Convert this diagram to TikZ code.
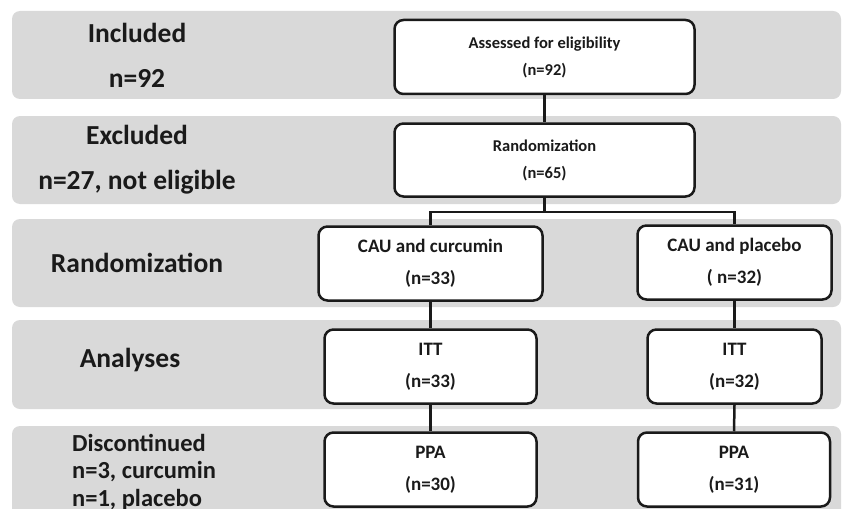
\documentclass[tikz,border=0pt]{standalone}
\usepackage{fontspec}
\setmainfont{Carlito}
\definecolor{band}{HTML}{D9D9D9}
\definecolor{ink}{HTML}{1A1A1A}
\begin{document}
\begin{tikzpicture}[x=1pt,y=-1pt,
  bandbox/.style={fill=band, draw=none, rounded corners=8pt},
  flowbox/.style={draw=ink, fill=white, line width=2.5pt, rounded corners=9pt, align=center, text=ink, inner sep=0pt},
  smallbox/.style={flowbox, font=\fontsize{16.5}{27}\selectfont\bfseries},
  bigbox/.style={flowbox, font=\fontsize{19}{32}\selectfont\bfseries},
  sidelabel/.style={text=ink, font=\fontsize{27.5}{45}\selectfont\bfseries, align=center, inner sep=0pt},
  link/.style={draw=ink, line width=2.5pt}
]
\useasboundingbox (0,0) rectangle (842,508);
\clip (0,0) rectangle (842,508);
% bands
\path[bandbox] (12,11) rectangle (841,99);
\path[bandbox] (12,116) rectangle (841,204);
\path[bandbox] (12,219) rectangle (841,307);
\path[bandbox] (12,320) rectangle (841,409);
\path[bandbox] (12,426) rectangle (841,530);
% side labels
\node[sidelabel] (l1) at (137,55) {Included\\n=92};
\node[sidelabel] (l2) at (137,160) {Excluded\\n=27, not eligible};
\node[sidelabel] (l3) at (137,263) {Randomization};
\node[sidelabel] (l4) at (130,360) {Analyses};
\node[sidelabel, align=left, anchor=west, font=\fontsize{24.5}{27.5}\selectfont\bfseries] (l5) at (72,472) {Discontinued\\n=3, curcumin\\n=1, placebo};
% boxes
\node[smallbox, minimum width=300pt, minimum height=74pt] (assess) at (544.5,57) {Assessed for eligibility\\(n=92)};
\node[smallbox, minimum width=300pt, minimum height=73pt] (rand) at (544.5,160) {Randomization\\(n=65)};
\node[bigbox, minimum width=224pt, minimum height=74pt] (cau1) at (430.5,263.5) {CAU and curcumin\\(n=33)};
\node[bigbox, minimum width=194pt, minimum height=74pt] (cau2) at (734.5,262.5) {CAU and placebo\\( n=32)};
\node[bigbox, minimum width=212pt, minimum height=74pt] (itt1) at (430.5,366.5) {ITT\\(n=33)};
\node[bigbox, minimum width=174pt, minimum height=74pt] (itt2) at (734.5,366.5) {ITT\\(n=32)};
\node[bigbox, minimum width=212pt, minimum height=74pt] (ppa1) at (430.5,469.5) {PPA\\(n=30)};
\node[bigbox, minimum width=192pt, minimum height=74pt] (ppa2) at (734,469.5) {PPA\\(n=31)};
% connectors
\coordinate (split) at ([yshift=-14pt]rand.south);
\draw[link] (assess.south) -- (rand.north);
\draw[link] (rand.south) -- (split) -| (cau1.north);
\draw[link] (split) -| (cau2.north);
\draw[link] (cau1.south) -- (itt1.north);
\draw[link] (cau2.south) -- (itt2.north);
\draw[link] (itt1.south) -- (ppa1.north);
\draw[link] (itt2.south) -- (ppa2.north);
\end{tikzpicture}
\end{document}
